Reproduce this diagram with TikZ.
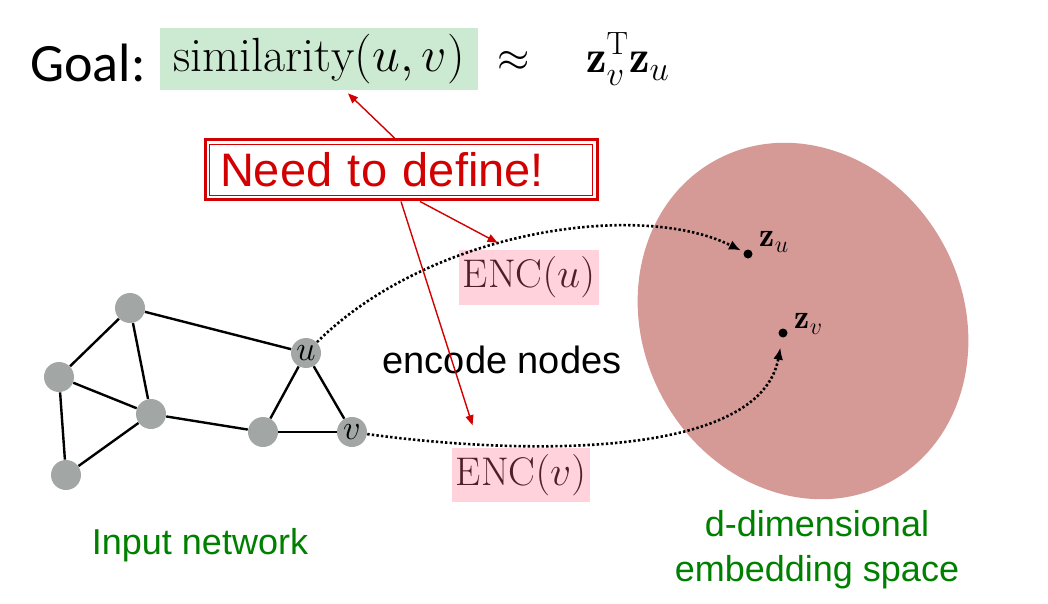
\documentclass[tikz,border=0pt]{standalone}
\usepackage{fontspec}
\setsansfont{Liberation Sans}
\newfontfamily\goalfont{Carlito}
\usepackage{tikz}
\usetikzlibrary{positioning,arrows.meta}
\definecolor{SimGreen}{RGB}{204,233,210}
\definecolor{EncPink}{RGB}{255,210,220}
\definecolor{EncText}{RGB}{80,30,40}
\definecolor{SpaceRose}{RGB}{214,154,150}
\definecolor{DefRed}{RGB}{210,0,0}
\definecolor{NodeGray}{RGB}{162,166,164}
\definecolor{LabelGreen}{RGB}{0,128,0}

\begin{document}
\begin{tikzpicture}[
    x=0.5pt, y=-0.5pt,
    vertex/.style={circle, fill=NodeGray, minimum size=15pt, inner sep=0pt, font=\fontsize{17}{17}\selectfont},
    edge/.style={line width=1.2pt},
    enc/.style={fill=EncPink, text=EncText, inner xsep=2pt, minimum height=24.5pt, font=\fontsize{20}{20}\selectfont},
    pointer/.style={-{Triangle[length=5pt,width=4pt]}, DefRed, line width=0.7pt},
    embed/.style={-{Latex[length=6pt,width=5pt]}, line width=1.3pt, dash pattern=on 1.2pt off 1.1pt},
    zdot/.style={circle, fill=black, inner sep=0pt, minimum size=4.5pt},
    zlabel/.style={inner sep=0pt, font=\fontsize{17}{17}\selectfont},
    greenlabel/.style={text=LabelGreen, align=center, font=\sffamily\fontsize{18}{22.5}\selectfont}
  ]
    \useasboundingbox (0,0) rectangle (1048,604);

    % embedding space
    \fill[SpaceRose, rotate around={-62:(803,321)}] (803,321) ellipse [x radius=91.5pt, y radius=80pt];
    \node[zdot] (zu) at (748,254) {};
    \node[zdot] (zv) at (783,333) {};
    \node[zlabel, above right=-1pt and 4pt of zu] (zul) {$\mathbf{z}_u$};
    \node[zlabel, above right=-2.5pt and 4pt of zv] (zvl) {$\mathbf{z}_v$};

    % goal line
    \node[anchor=base west, inner sep=0pt, font=\goalfont\fontsize{27}{27}\selectfont] (goal) at (30,82) {Goal:};
    \node[fill=SimGreen, minimum width=159pt, minimum height=31pt, inner sep=0pt, font=\fontsize{24}{24}\selectfont] (sim) at (319,59) {$\mathrm{similarity}(u,v)$};
    \node[anchor=base, inner sep=0pt, font=\fontsize{20}{20}\selectfont] (approx) at (514,72) {$\approx$};
    \node[anchor=base, inner sep=0pt, font=\fontsize{23}{23}\selectfont] (prod) at (628,73) {$\mathbf{z}_v^{\mathrm{T}}\mathbf{z}_u$};

    % need to define
    \node[draw=DefRed, line width=1.5pt, minimum height=30pt, text width=181pt, inner xsep=7.5pt, align=left,
          text=DefRed, font=\sffamily\fontsize{23.5}{23.5}\selectfont] (need) at (401,170) {Need to define!};
    \draw[DefRed, line width=0.7pt] ([shift={(2.9pt,-2.9pt)}]need.north west) rectangle ([shift={(-2.9pt,2.9pt)}]need.south east);

    % encoders
    \node[enc] (encu) at (529,277.5) {$\mathrm{ENC}(u)$};
    \node[enc] (encv) at (521,475) {$\mathrm{ENC}(v)$};
    \node[font=\sffamily\fontsize{19}{19}\selectfont] (encode) at (502,360) {encode nodes};

    % input network
    \node[vertex] (a) at (130,308) {};
    \node[vertex] (b) at (59,377) {};
    \node[vertex] (c) at (151,414) {};
    \node[vertex] (d) at (66,475) {};
    \node[vertex] (e) at (263,432) {};
    \node[vertex] (u) at (306,353) {$u$};
    \node[vertex] (v) at (352,432) {$v$};
    \foreach \s/\t in {a/b, a/c, a/u, b/c, b/d, c/d, c/e, e/u, e/v, u/v}
      \draw[edge] (\s) -- (\t);

    % mappings
    \draw[embed, shorten >=1.5pt] (u) .. controls (430,230) and (640,200) .. (zu);
    \draw[embed, shorten >=5pt] (v) .. controls (520,455) and (760,460) .. (zv);

    \draw[pointer] ([xshift=-3pt]need.north) -- ([shift={(14.5pt,-1.5pt)}]sim.south);
    \draw[pointer] ([xshift=9.5pt]need.south) -- ([shift={(19.5pt,3.5pt)}]encu.north west);
    \draw[pointer] (need.south) -- ([shift={(10.5pt,11pt)}]encv.north west);

    % captions
    \node[greenlabel] (input) at (200,545) {Input network};
    \node[greenlabel] (space) at (817,550) {d-dimensional\\embedding space};
\end{tikzpicture}
\end{document}
